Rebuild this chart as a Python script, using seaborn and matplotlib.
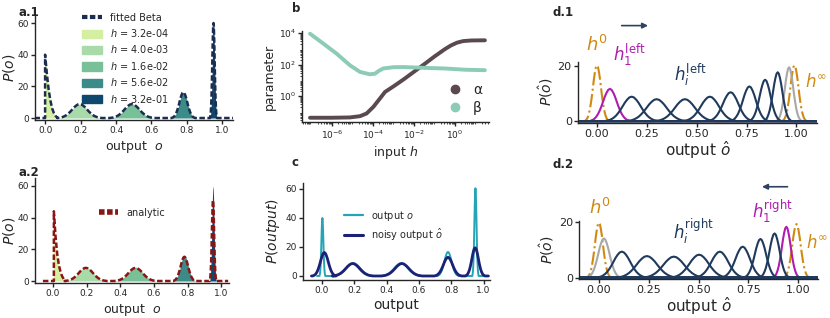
import matplotlib
matplotlib.use("Agg")

import numpy as np
import matplotlib.pyplot as plt
import seaborn as sns
from matplotlib.lines import Line2D
from matplotlib.patches import Patch
from matplotlib.ticker import LogLocator, NullFormatter

sns.set_theme(style="ticks")
plt.rcParams["font.family"] = ["DejaVu Sans"]
plt.rcParams["mathtext.fontset"] = "dejavusans"
plt.rcParams["axes.linewidth"] = 1.0
plt.rcParams["axes.edgecolor"] = "#262626"

W, H = 830, 318

# --- data ---
# shape of one bump: offsets in widths, fraction of the peak height
bump_half_u = [0.0, 0.25, 0.5, 0.75, 1.0, 1.25, 1.5, 1.75, 2.0, 2.25, 2.5, 2.75, 3.0]
bump_half_v = [1.0, 0.97, 0.88, 0.76, 0.61, 0.46, 0.33, 0.22, 0.14, 0.08, 0.04, 0.02, 0.0]

# a: output distributions for five inputs h
h_labels = ["3.2e-04", "4.0e-03", "1.6e-02", "5.6e-02", "3.2e-01"]
h_colors = ["#d5efa2", "#a9dbaa", "#78c097", "#3b8b89", "#0e486c"]
# first peak sits on the boundary o=0
edge_x = [0.0, 0.0, 0.005, 0.01, 0.02, 0.03, 0.04, 0.05, 0.06, 0.07]
edge_y = [0.0, 40.0, 34.0, 28.0, 18.0, 11.0, 6.0, 3.0, 1.2, 0.0]
a_centers = [0.195, 0.49, 0.78, 0.95]
a_heights = [8.8, 8.8, 16.3, 60.0]
a_widths = [0.042, 0.042, 0.022, 0.0065]
# a.2 analytic curve
an_edge_x = [0.005, 0.005, 0.01, 0.015, 0.025, 0.035, 0.045, 0.055, 0.065, 0.075]
an_edge_y = [0.0, 44.0, 36.0, 28.0, 17.0, 10.0, 5.5, 2.8, 1.0, 0.0]
an_heights = [8.3, 8.3, 15.3, 51.0]

# b: fitted Beta parameters vs input h (log10 values)
alpha_logh = [-7.07, -6.0, -5.12, -4.63, -4.31, -3.98, -3.66, -3.41, -3.0, -2.5, -2.0,
              -1.5, -1.0, -0.5, -0.2, 0.1, 0.4, 0.8, 1.46]
alpha_logv = [-1.37, -1.37, -1.35, -1.27, -1.10, -0.68, -0.15, 0.27, 0.62, 1.07, 1.55,
              2.03, 2.52, 2.98, 3.22, 3.40, 3.50, 3.54, 3.55]
beta_logh = [-7.07, -6.42, -5.77, -5.12, -4.63, -4.15, -3.9, -3.7, -3.5, -3.0, -2.5,
             -1.5, -0.5, 0.5, 1.46]
beta_logv = [3.97, 3.34, 2.70, 1.96, 1.54, 1.39, 1.43, 1.62, 1.76, 1.84, 1.85,
             1.80, 1.76, 1.68, 1.65]

# c: output vs noisy output
c_centers = [0.003, 0.195, 0.49, 0.78, 0.95]
c_heights = [40.0, 8.8, 8.8, 16.6, 60.5]
c_widths = [0.006, 0.042, 0.042, 0.022, 0.0065]
noisy_centers = [0.015, 0.19, 0.495, 0.78, 0.948]
noisy_heights = [16.2, 8.6, 8.6, 12.9, 19.5]
noisy_widths = [0.024, 0.042, 0.042, 0.028, 0.02]

# d.1 / d.2: noisy output for successive inputs
d1_centers = [0.0, 0.065, 0.174, 0.299, 0.441, 0.566, 0.670, 0.764, 0.843, 0.906, 0.963, 0.99]
d1_heights = [20.1, 11.6, 8.8, 7.9, 7.9, 8.8, 10.4, 12.5, 14.9, 17.6, 19.4, 20.1]
d1_widths = [0.020, 0.034, 0.045, 0.050, 0.050, 0.045, 0.038, 0.032, 0.027, 0.023, 0.021, 0.020]
d1_roles = ["h0", "h1", "hi", "hi", "hi", "hi", "hi", "hi", "hi", "hi", "gray", "hinf"]
d2_centers = [0.0, 0.025, 0.115, 0.241, 0.376, 0.503, 0.607, 0.722, 0.811, 0.882, 0.941, 0.992]
d2_heights = [19.9, 14.2, 9.4, 7.8, 7.6, 8.3, 9.4, 11.2, 14.0, 16.0, 18.4, 19.4]
d2_widths = [0.020, 0.028, 0.042, 0.051, 0.052, 0.048, 0.042, 0.036, 0.028, 0.025, 0.022, 0.021]
d2_roles = ["h0", "gray", "hi", "hi", "hi", "hi", "hi", "hi", "hi", "hi", "h1", "hinf"]

NAVY = "#1c2d50"
DRED = "#8b1414"
ALPHA_C = "#5a4a50"
BETA_C = "#8ccbb6"
TEAL = "#25a4b6"
NOISY = "#1c2178"
ORANGE = "#d08a12"
MAGENTA = "#b01cb0"
HI_C = "#1f3a5c"
GRAY = "#a8a8a8"
role_style = {"h0": (ORANGE, "-.", 1), "hinf": (ORANGE, "-.", 1),
              "gray": (GRAY, "-", 2), "h1": (MAGENTA, "-", 3), "hi": (HI_C, "-", 4)}

bump_u = [-u for u in bump_half_u[::-1]] + bump_half_u[1:]
bump_v = bump_half_v[::-1] + bump_half_v[1:]


def bump(c, h, s):
    return [c + s * u for u in bump_u], [h * v for v in bump_v]


def joined(centers, heights, widths, lo, hi, head_x=None, head_y=None):
    xs, ys = [lo], [0.0]
    if head_x is not None:
        xs += head_x
        ys += head_y
    for c, h, s in zip(centers, heights, widths):
        bx, by = bump(c, h, s)
        xs += bx
        ys += by
    xs.append(hi)
    ys.append(0.0)
    return np.array(xs), np.array(ys)


def line(ax, x, y, **kw):
    sns.lineplot(x=x, y=y, ax=ax, sort=False, estimator=None, **kw)


def add_ax(l, t, r, b):
    return fig.add_axes([l / W, 1 - b / H, (r - l) / W, (b - t) / H])


def style(ax, fs):
    sns.despine(ax=ax)
    ax.tick_params(labelsize=fs, length=3, width=1, pad=1.5)


fig = plt.figure(figsize=(W / 100, H / 100), dpi=100)

# ---------- a.1 / a.2 ----------
for k, box in enumerate([(35, 15.1, 233, 119.6), (35, 178, 229, 282.6)]):
    ax = add_ax(*box)
    # fills
    ax.fill_between(edge_x[1:], edge_y[1:], color=h_colors[0], lw=0)
    for c, h, s, col in zip(a_centers, a_heights, a_widths, h_colors[1:]):
        bx, by = bump(c, h, s)
        ax.fill_between(bx, by, color=col, lw=0)
    if k == 0:
        x, y = joined(a_centers, a_heights, a_widths, -0.06, 1.06, edge_x, edge_y)
        line(ax, x, y, color=NAVY, lw=1.8, dashes=(2.2, 1.0))
        ax.set_xlim(-0.057, 1.06)
        handles = [Line2D([], [], color=NAVY, lw=3, dashes=(1.3, 0.6))]
        handles += [Patch(color=c) for c in h_colors]
        labels = ["fitted Beta"] + [r"$h$ = " + s for s in h_labels]
        ax.legend(handles, labels, loc="upper left", bbox_to_anchor=(0.22, 1.06),
                  frameon=False, fontsize=7, handlelength=2.0, handleheight=0.9,
                  labelspacing=0.45, borderaxespad=0, handletextpad=0.8)
    else:
        x, y = joined(a_centers, an_heights, a_widths, -0.06, 1.04, an_edge_x, an_edge_y)
        line(ax, x, y, color=DRED, lw=1.8, dashes=(2.2, 1.0))
        ax.set_xlim(-0.107, 1.045)
        ax.legend([Line2D([], [], color=DRED, lw=4, dashes=(1.0, 0.45))], ["analytic"],
                  loc="center", bbox_to_anchor=(0.5, 0.67), frameon=False,
                  fontsize=7, handlelength=2.0, handletextpad=0.8)
    ax.set_ylim(-1, 65)
    ax.set_yticks([0, 20, 40, 60])
    ax.set_xticks([0, 0.2, 0.4, 0.6, 0.8, 1.0])
    ax.set_xticklabels(["0.0", "0.2", "0.4", "0.6", "0.8", "1.0"])
    ax.set_ylabel(r"$P(o)$", fontsize=10, labelpad=0.5)
    ax.set_xlabel(r"output  $o$", fontsize=9, labelpad=3)
    style(ax, 6.5)

# ---------- b ----------
ax = add_ax(302, 30.7, 489, 122.3)
line(ax, 10.0 ** np.array(alpha_logh), 10.0 ** np.array(alpha_logv), color=ALPHA_C, lw=2.8)
line(ax, 10.0 ** np.array(beta_logh), 10.0 ** np.array(beta_logv), color=BETA_C, lw=2.8)
ax.set_xscale("log")
ax.set_yscale("log")
ax.set_xlim(10 ** -7.46, 10 ** 1.66)
ax.set_ylim(10 ** -1.66, 10 ** 4.16)
ax.set_xticks([1e-6, 1e-4, 1e-2, 1e0])
ax.set_yticks([1e0, 1e2, 1e4])
ax.xaxis.set_minor_locator(LogLocator(base=10, subs=np.arange(2, 10), numticks=100))
ax.yaxis.set_minor_locator(LogLocator(base=10, subs=np.arange(2, 10), numticks=100))
ax.xaxis.set_minor_formatter(NullFormatter())
ax.yaxis.set_minor_formatter(NullFormatter())
ax.tick_params(which="minor", length=1.5, width=0.6)
ax.set_ylabel("parameter", fontsize=9, labelpad=2)
ax.set_xlabel(r"input $h$", fontsize=9, labelpad=2)
ax.legend([Line2D([], [], color=ALPHA_C, marker="o", ls="", ms=6),
           Line2D([], [], color=BETA_C, marker="o", ls="", ms=6)],
          ["α", "β"], loc="lower right", frameon=False, fontsize=10,
          handletextpad=0.3, borderaxespad=0.1, labelspacing=0.3)
style(ax, 6.5)

# ---------- c ----------
ax = add_ax(303, 183.2, 490, 279.6)
x, y = joined(c_centers, c_heights, c_widths, -0.03, 1.03)
line(ax, x, y, color=TEAL, lw=1.4)
x, y = joined(noisy_centers, noisy_heights, noisy_widths, -0.065, 1.03)
line(ax, x, y, color=NOISY, lw=2.0)
ax.set_xlim(-0.117, 1.04)
ax.set_ylim(-2.5, 64)
ax.set_yticks([0, 20, 40, 60])
ax.set_xticks([0, 0.2, 0.4, 0.6, 0.8, 1.0])
ax.set_xticklabels(["0.0", "0.2", "0.4", "0.6", "0.8", "1.0"])
ax.set_ylabel(r"$P(output)$", fontsize=10, labelpad=2)
ax.set_xlabel("output", fontsize=10, labelpad=2)
ax.legend([Line2D([], [], color=TEAL, lw=1.6), Line2D([], [], color=NOISY, lw=2.2)],
          [r"output $o$", r"noisy output $\hat{o}$"], loc="center left",
          bbox_to_anchor=(0.17, 0.56), frameon=False, fontsize=7,
          handlelength=2.0, labelspacing=0.4)
style(ax, 6.5)

# ---------- d.1 / d.2 ----------
d_sets = [
    ((578, 61.7, 817, 122.5), (-0.095, 1.103), (-0.5, 21.4),
     d1_centers, d1_heights, d1_widths, d1_roles, "left"),
    ((579, 221.0, 818, 279.0), (-0.10, 1.10), (-0.5, 20.5),
     d2_centers, d2_heights, d2_widths, d2_roles, "right"),
]
for box, xl, yl, cs, hs, ws, roles, side in d_sets:
    ax = add_ax(*box)
    order = sorted(range(len(cs)), key=lambda i: role_style[roles[i]][2])
    for i in order:
        col, ls, _ = role_style[roles[i]]
        bx, by = bump(cs[i], hs[i], ws[i])
        x = np.array([xl[0]] + bx + [xl[1]])
        y = np.array([0.0] + by + [0.0])
        line(ax, x, y, color=col, lw=1.5, linestyle=ls)
    ax.set_xlim(*xl)
    ax.set_ylim(*yl)
    ax.set_yticks([0, 20])
    ax.set_xticks([0, 0.25, 0.5, 0.75, 1.0])
    ax.set_xticklabels(["0.00", "0.25", "0.50", "0.75", "1.00"])
    ax.set_ylabel(r"$P(\hat{o})$", fontsize=10, labelpad=2)
    ax.set_xlabel(r"output $\hat{o}$", fontsize=11, labelpad=0)
    style(ax, 8)
    if side == "left":
        ax.text(0.0, 27.5, r"$h^0$", color=ORANGE, fontsize=13, ha="center", va="center")
        ax.text(0.165, 23.9, r"$h_1^{\rm left}$", color=MAGENTA, fontsize=12, ha="center", va="center")
        ax.text(0.466, 16.6, r"$h_i^{\rm left}$", color=HI_C, fontsize=12, ha="center", va="center")
        ax.text(1.042, 14.2, r"$h^\infty$", color=ORANGE, fontsize=12, ha="left", va="center", clip_on=False)
        ax.annotate("", xy=(0.27, 34.4), xytext=(0.11, 34.4), annotation_clip=False,
                    arrowprops=dict(arrowstyle="-|>", color="#2f4260", lw=1.2, mutation_scale=8))
    else:
        ax.text(0.005, 25.2, r"$h^0$", color=ORANGE, fontsize=13, ha="center", va="center")
        ax.text(0.87, 23.8, r"$h_1^{\rm right}$", color=MAGENTA, fontsize=12, ha="center", va="center")
        ax.text(0.473, 16.6, r"$h_i^{\rm right}$", color=HI_C, fontsize=12, ha="center", va="center")
        ax.text(1.038, 12.4, r"$h^\infty$", color=ORANGE, fontsize=12, ha="left", va="center", clip_on=False)
        ax.annotate("", xy=(0.805, 32.9), xytext=(0.961, 32.9), annotation_clip=False,
                    arrowprops=dict(arrowstyle="-|>", color="#2f4260", lw=1.2, mutation_scale=8))

# panel letters
for txt, px, py in [("a.1", 18, 12), ("a.2", 18, 173), ("b", 292, 9), ("c", 292, 163),
                    ("d.1", 552, 12), ("d.2", 552, 165)]:
    fig.text(px / W, 1 - py / H, txt, fontsize=8.5, fontweight="bold", va="center")

fig.savefig("out.png", dpi=100)
